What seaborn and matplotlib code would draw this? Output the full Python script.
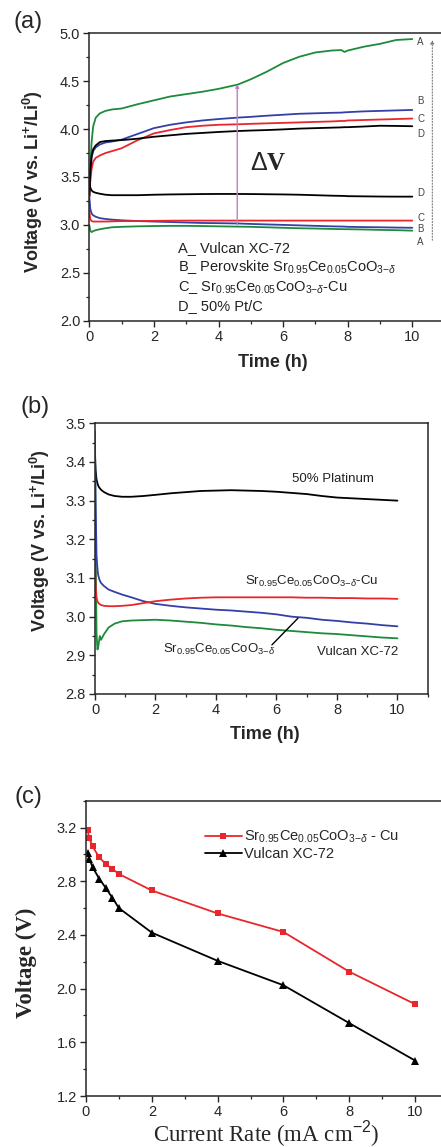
import matplotlib
matplotlib.use('Agg')
import matplotlib.pyplot as plt
from matplotlib.ticker import MultipleLocator, FormatStrFormatter
import seaborn as sns

sns.set_style('ticks')
plt.rcParams['font.family'] = ['Liberation Sans', 'DejaVu Sans']
plt.rcParams['mathtext.fontset'] = 'custom'
plt.rcParams['mathtext.rm'] = 'Liberation Sans'
plt.rcParams['mathtext.it'] = 'Liberation Sans:italic'
plt.rcParams['mathtext.bf'] = 'Liberation Sans:bold'

# ---- panel (a): charge / discharge at fixed current, 10 h
t_a = [0, 0.03, 0.07, 0.12, 0.2, 0.33, 0.5, 0.7, 1.0, 1.5, 2.0, 2.5, 3.0, 3.5, 4.0, 4.6,
       5.0, 5.5, 6.0, 6.5, 7.0, 7.5, 7.8, 7.9, 8.0, 8.5, 9.0, 9.5, 10.0]
a_chg_A = [3.30, 3.60, 3.86, 4.03, 4.12, 4.165, 4.19, 4.205, 4.215, 4.26, 4.30, 4.34, 4.365, 4.39, 4.42, 4.465,
           4.52, 4.60, 4.69, 4.755, 4.80, 4.82, 4.825, 4.805, 4.82, 4.86, 4.89, 4.93, 4.94]
a_chg_B = [3.30, 3.55, 3.70, 3.77, 3.81, 3.84, 3.86, 3.87, 3.89, 3.95, 4.01, 4.045, 4.07, 4.09, 4.105, 4.12,
           4.128, 4.14, 4.15, 4.16, 4.165, 4.17, 4.172, 4.175, 4.177, 4.185, 4.19, 4.195, 4.20]
a_chg_C = [3.30, 3.45, 3.58, 3.66, 3.70, 3.725, 3.75, 3.77, 3.80, 3.885, 3.955, 3.99, 4.02, 4.035, 4.045, 4.05,
           4.055, 4.06, 4.065, 4.07, 4.075, 4.08, 4.085, 4.085, 4.09, 4.095, 4.10, 4.105, 4.11]
a_chg_D = [3.30, 3.55, 3.72, 3.79, 3.83, 3.865, 3.875, 3.88, 3.885, 3.90, 3.92, 3.935, 3.95, 3.96, 3.97, 3.98,
           3.985, 3.99, 3.997, 4.005, 4.01, 4.015, 4.018, 4.02, 4.02, 4.027, 4.035, 4.033, 4.03]
a_dis_A = [3.00, 2.94, 2.925, 2.935, 2.945, 2.955, 2.965, 2.975, 2.98, 2.985, 2.988, 2.99, 2.99, 2.988, 2.985, 2.982,
           2.98, 2.975, 2.97, 2.965, 2.962, 2.958, 2.956, 2.955, 2.955, 2.952, 2.948, 2.945, 2.94]
a_dis_B = [3.30, 3.17, 3.12, 3.10, 3.085, 3.07, 3.062, 3.055, 3.048, 3.04, 3.035, 3.03, 3.025, 3.02, 3.018, 3.015,
           3.01, 3.005, 3.00, 2.995, 2.99, 2.985, 2.983, 2.982, 2.98, 2.977, 2.975, 2.972, 2.97]
a_dis_C = [3.15, 3.06, 3.04, 3.035, 3.035, 3.035, 3.035, 3.037, 3.04, 3.04, 3.042, 3.044, 3.045, 3.045, 3.045, 3.045,
           3.045, 3.045, 3.045, 3.045, 3.045, 3.045, 3.045, 3.045, 3.045, 3.045, 3.045, 3.045, 3.045]
a_dis_D = [3.45, 3.39, 3.36, 3.345, 3.335, 3.325, 3.315, 3.31, 3.31, 3.31, 3.315, 3.318, 3.32, 3.322, 3.323, 3.323,
           3.322, 3.32, 3.318, 3.315, 3.31, 3.305, 3.303, 3.302, 3.30, 3.298, 3.296, 3.295, 3.295]
a_legend = ['A_ Vulcan XC-72',
            r'B_ Perovskite Sr$_{0.95}$Ce$_{0.05}$CoO$_{3\mathrm{-}δ}$',
            r'C_ Sr$_{0.95}$Ce$_{0.05}$CoO$_{3\mathrm{-}δ}$-Cu',
            'D_ 50% Pt/C']
a_end_labels = ['A', 'B', 'C', 'D', 'D', 'C', 'B', 'A']
a_end_volts = [4.912, 4.293, 4.105, 3.946, 3.336, 3.069, 2.954, 2.825]

# ---- panel (b): discharge zoom
t_b = [0, 0.02, 0.05, 0.08, 0.1, 0.13, 0.16, 0.2, 0.3, 0.45, 0.65, 0.9, 1.2, 1.6, 2.0, 2.5, 3.0, 3.5,
       4.0, 4.5, 5.0, 5.5, 6.0, 6.5, 7.0, 7.5, 8.0, 8.5, 9.0, 9.5, 10.0]
b_pt = [3.42, 3.38, 3.355, 3.345, 3.34, 3.335, 3.332, 3.328, 3.322, 3.316, 3.312, 3.31, 3.31, 3.312, 3.315,
        3.319, 3.322, 3.325, 3.326, 3.327, 3.326, 3.325, 3.323, 3.32, 3.317, 3.312, 3.308, 3.306, 3.304, 3.302, 3.30]
b_perov = [3.42, 3.30, 3.16, 3.125, 3.11, 3.10, 3.093, 3.087, 3.079, 3.07, 3.064, 3.057, 3.05, 3.04, 3.033,
           3.028, 3.024, 3.021, 3.018, 3.016, 3.013, 3.01, 3.006, 3.0, 2.997, 2.992, 2.989, 2.985, 2.982, 2.978, 2.975]
b_cu = [3.14, 3.08, 3.05, 3.04, 3.037, 3.034, 3.032, 3.03, 3.028, 3.027, 3.027, 3.028, 3.03, 3.035, 3.04,
        3.044, 3.047, 3.049, 3.05, 3.05, 3.05, 3.05, 3.05, 3.05, 3.049, 3.049, 3.048, 3.048, 3.047, 3.047, 3.046]
b_vulcan = [3.48, 3.20, 2.96, 2.915, 2.918, 2.935, 2.95, 2.94, 2.955, 2.972, 2.982, 2.988, 2.99, 2.991, 2.992,
            2.99, 2.987, 2.984, 2.98, 2.977, 2.973, 2.97, 2.966, 2.963, 2.96, 2.957, 2.955, 2.952, 2.949, 2.946, 2.944]

# ---- panel (c): voltage vs current rate
rate = [0.05, 0.1, 0.2, 0.4, 0.6, 0.8, 1.0, 2, 4, 6, 8, 10]
c_cu = [3.178, 3.121, 3.059, 2.978, 2.928, 2.891, 2.854, 2.731, 2.56, 2.422, 2.126, 1.884]
c_vulcan = [3.01, 2.968, 2.904, 2.82, 2.75, 2.677, 2.60, 2.417, 2.207, 2.025, 1.743, 1.464]

GREEN, BLUE, RED = '#1e8a3c', '#3440a8', '#e8262b'
W, H = 441, 1147

fig = plt.figure(figsize=(W / 100, H / 100), dpi=100)


def px_axes(left, top, right, bottom):
    return fig.add_axes([left / W, 1 - bottom / H, (right - left) / W, (bottom - top) / H])


def style(ax):
    for s in ax.spines.values():
        s.set_linewidth(1.1)
        s.set_visible(True)
    ax.tick_params(which='major', direction='out', length=4.5, width=1.0, labelsize=10.5, pad=2)
    ax.tick_params(which='minor', direction='out', length=2.5, width=0.9)


# (a)
ax1 = px_axes(89.3, 33.3, 444.6, 320.7)
for y, c in [(a_chg_A, GREEN), (a_chg_B, BLUE), (a_chg_C, RED), (a_chg_D, 'black'),
             (a_dis_D, 'black'), (a_dis_B, BLUE), (a_dis_C, RED), (a_dis_A, GREEN)]:
    sns.lineplot(x=t_a, y=y, ax=ax1, color=c, lw=1.3, sort=False, estimator=None)
ax1.set_xlim(0, 11)
ax1.set_ylim(2.0, 5.0)
ax1.xaxis.set_major_locator(MultipleLocator(2))
ax1.xaxis.set_minor_locator(MultipleLocator(1))
ax1.yaxis.set_major_locator(MultipleLocator(0.5))
ax1.yaxis.set_minor_locator(MultipleLocator(0.25))
ax1.yaxis.set_major_formatter(FormatStrFormatter('%.1f'))
style(ax1)
ax1.set_xlabel('Time (h)', fontsize=13, fontweight='bold')
ax1.set_ylabel(r'Voltage (V vs. Li$^{\mathbf{+}}$/Li$^{\mathbf{0}}$)', fontsize=13, fontweight='bold')
ax1.xaxis.set_label_coords(0.516, -0.116)
ax1.yaxis.set_label_coords(-0.125, 0.484)
ax1.annotate('', xy=(4.58, 4.47), xytext=(4.58, 3.0),
             arrowprops=dict(arrowstyle='-|>', color='#c47cc4', lw=1.0, mutation_scale=5, shrinkA=0, shrinkB=0))
ax1.text(5.53, 3.643, r'$\Delta$V', fontsize=18, fontweight='bold', family=['Liberation Serif'],
         ha='center', va='center')
ax1.annotate('', xy=(10.62, 4.93), xytext=(10.62, 2.84), annotation_clip=False,
             arrowprops=dict(arrowstyle='-|>', color='#777777', lw=0.8, ls=':', mutation_scale=5,
                             shrinkA=0, shrinkB=0))
for lab, v in zip(a_end_labels, a_end_volts):
    ax1.text(10.26, v, lab, fontsize=7, color='#444444', ha='center', va='center')
for i, lab in enumerate(a_legend):
    ax1.text(2.76, 2.717 - 0.201 * i, lab, fontsize=10.5, color='#222222', ha='left', va='baseline')
fig.text(28 / W, 1 - 22 / H, '(a)', fontsize=17, ha='center', va='center')

# (b)
ax2 = px_axes(95, 423.3, 427.7, 694)
for y, c in [(b_pt, 'black'), (b_vulcan, GREEN), (b_perov, BLUE), (b_cu, RED)]:
    sns.lineplot(x=t_b, y=y, ax=ax2, color=c, lw=1.3, sort=False, estimator=None)
ax2.set_xlim(0, 11)
ax2.set_ylim(2.8, 3.5)
ax2.xaxis.set_major_locator(MultipleLocator(2))
ax2.xaxis.set_minor_locator(MultipleLocator(1))
ax2.yaxis.set_major_locator(MultipleLocator(0.1))
ax2.yaxis.set_minor_locator(MultipleLocator(0.05))
ax2.yaxis.set_major_formatter(FormatStrFormatter('%.1f'))
style(ax2)
ax2.set_xlabel('Time (h)', fontsize=13, fontweight='bold')
ax2.set_ylabel(r'Voltage (V vs. Li$^{\mathbf{+}}$/Li$^{\mathbf{0}}$)', fontsize=13, fontweight='bold')
ax2.xaxis.set_label_coords(0.511, -0.118)
ax2.yaxis.set_label_coords(-0.13, 0.565)
ax2.text(6.52, 3.347, '50% Platinum', fontsize=9.5, color='#222222', ha='left', va='baseline')
ax2.text(4.97, 3.082, r'Sr$_{0.95}$Ce$_{0.05}$CoO$_{3\mathrm{-}δ}$-Cu', fontsize=9.5, color='#222222',
         ha='left', va='baseline')
ax2.text(2.25, 2.907, r'Sr$_{0.95}$Ce$_{0.05}$CoO$_{3\mathrm{-}δ}$', fontsize=9.5, color='#222222',
         ha='left', va='baseline')
ax2.text(10.03, 2.901, 'Vulcan XC-72', fontsize=9.5, color='#222222', ha='right', va='baseline')
ax2.plot([5.85, 6.71], [2.927, 2.996], color='black', lw=1.0)
fig.text(35 / W, 1 - 407 / H, '(b)', fontsize=17, ha='center', va='center')

# (c)
ax3 = px_axes(86, 800.7, 448, 1096)
sns.lineplot(x=rate, y=c_cu, ax=ax3, color=RED, lw=1.3, marker='s', markersize=4.5, markeredgewidth=0,
             label=r'Sr$_{0.95}$Ce$_{0.05}$CoO$_{3\mathrm{-}δ}$ - Cu', estimator=None)
sns.lineplot(x=rate, y=c_vulcan, ax=ax3, color='black', lw=1.3, marker='^', markersize=5.5, markeredgewidth=0,
             label='Vulcan XC-72', estimator=None)
ax3.set_xlim(0, 11)
ax3.set_ylim(1.2, 3.4)
ax3.xaxis.set_major_locator(MultipleLocator(2))
ax3.xaxis.set_minor_locator(MultipleLocator(1))
ax3.yaxis.set_major_locator(MultipleLocator(0.4))
ax3.yaxis.set_minor_locator(MultipleLocator(0.2))
ax3.yaxis.set_major_formatter(FormatStrFormatter('%.1f'))
style(ax3)
ax3.set_xlabel(r'Current Rate (mA cm$^{\mathrm{-2}}$)', fontsize=16.5, family=['Liberation Serif'])
ax3.set_ylabel('Voltage (V)', fontsize=16.5, fontweight='bold', family=['Liberation Serif'])
ax3.xaxis.set_label_coords(0.497, -0.078)
ax3.yaxis.set_label_coords(-0.135, 0.45)
ax3.legend(loc='upper left', bbox_to_anchor=(0.329, 0.905), frameon=False, fontsize=10.5,
           handlelength=2.5, handletextpad=0.2, borderpad=0, labelspacing=0.15, borderaxespad=0)
fig.text(28 / W, 1 - 797 / H, '(c)', fontsize=17, ha='center', va='center')

fig.savefig('out.png', dpi=100)
plt.close(fig)
